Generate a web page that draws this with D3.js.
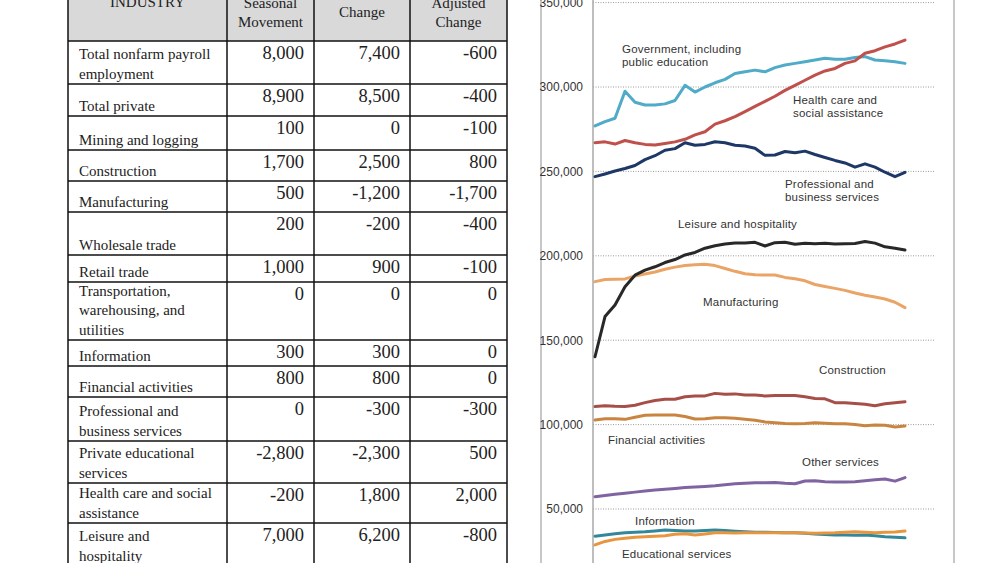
<!DOCTYPE html>
<html>
<head>
<meta charset="utf-8">
<script src="https://cdn.jsdelivr.net/npm/d3@7"></script>
<style>
  body { margin: 0; background: #fff; }
  svg { display: block; }
</style>
</head>
<body>
<div id="container"></div>
<script>
// table data
let industries = [
  "Total nonfarm payroll|employment", "Total private", "Mining and logging", "Construction",
  "Manufacturing", "Wholesale trade", "Retail trade", "Transportation,|warehousing, and|utilities",
  "Information", "Financial activities", "Professional and|business services",
  "Private educational|services", "Health care and social|assistance", "Leisure and|hospitality"
];
let seasonalMovement = [8000, 8900, 100, 1700, 500, 200, 1000, 0, 300, 800, 0, -2800, -200, 7000];
let unadjustedChange = [7400, 8500, 0, 2500, -1200, -200, 900, 0, 300, 800, -300, -2300, 1800, 6200];
let adjustedChange = [-600, -400, -100, 800, -1700, -400, -100, 0, 0, 0, -300, 500, 2000, -800];
let headers = ["INDUSTRY", "Seasonal|Movement", "Change", "Adjusted|Change"];

// chart data (thousands)
let government = [276.9, 279.5, 281.5, 297.5, 291, 289.3, 289.3, 290, 292, 301, 297, 300, 302.5, 304.5, 308, 309, 310, 309, 311.5, 313, 314, 315, 316, 317, 316.5, 316.5, 317.5, 318, 316, 315.5, 315, 314];
let healthCare = [267, 267.5, 266.2, 268.3, 267, 266, 265.6, 266.5, 267.5, 269, 271.6, 273.5, 278, 280, 282.4, 285.4, 288.5, 291.5, 294.5, 298, 301, 304, 307, 309.5, 311, 314, 315.5, 320, 321.5, 323.8, 325.5, 327.8];
let professional = [246.9, 248.5, 250.2, 251.7, 253.5, 257, 259.3, 262.5, 263.5, 267, 265.5, 266, 267.6, 267, 265.5, 265, 263.7, 259.5, 259.7, 261.8, 261, 262, 260, 258.2, 256.5, 255, 252.5, 254.5, 252.5, 249.5, 246.9, 249.4];
let leisure = [140.2, 164, 170.9, 181.7, 188.5, 191.5, 193.5, 196, 197.8, 200.5, 202, 204.5, 206, 207, 207.6, 207.6, 208, 205.8, 207.8, 208, 206.8, 207.5, 207.2, 207.4, 207, 207.2, 207.3, 208.5, 207.5, 205.3, 204.5, 203.4];
let manufacturing = [184.7, 186, 186.1, 186.3, 188, 189.2, 190.4, 192, 193.3, 194.2, 194.7, 195, 194.2, 192.5, 190.8, 189.4, 188.8, 188.6, 188.6, 187.2, 186.4, 185.2, 183, 181.8, 180.7, 179.5, 178, 176.6, 175.6, 174.4, 172.5, 169.3];
let construction = [110.7, 111.2, 110.8, 110.7, 111.5, 113, 114.3, 115, 115, 116.5, 116.9, 117, 118.5, 118, 118.2, 117.5, 117.5, 117, 117.3, 117.2, 117.3, 116.5, 115.5, 115.3, 113, 113, 112.5, 112, 111.2, 112.3, 113, 113.6];
let financial = [102.7, 103.5, 103.5, 103.1, 104.3, 105.5, 105.7, 105.7, 105.7, 104.8, 103.3, 103.4, 104.1, 104, 103.8, 103.2, 102.6, 101.6, 101.1, 100.7, 100.5, 100.7, 101.1, 100.8, 100.5, 100.5, 100, 99.3, 99.7, 99.6, 98.6, 99.2];
let otherServices = [57.3, 58, 58.8, 59.4, 60, 60.6, 61.2, 61.7, 62.2, 62.7, 63.1, 63.4, 63.8, 64.4, 64.9, 65.3, 65.6, 65.6, 65.7, 65.2, 65, 66.6, 66.8, 66.2, 66, 66, 66.2, 66.8, 67.3, 67.8, 66.5, 68.6];
let information = [33.9, 34.6, 35.3, 35.9, 36.2, 36.5, 37, 37.5, 37.2, 36.9, 37, 37.2, 37.5, 37.2, 36.8, 36.5, 36.3, 36.2, 36.1, 36, 35.9, 35.6, 35.2, 34.9, 34.6, 34.6, 34.5, 34.6, 34.2, 33.6, 33.3, 32.9];
let educational = [28.7, 30.8, 32, 32.7, 33.2, 33.6, 33.9, 34.1, 35, 35.3, 34.6, 35.2, 35.9, 36, 35.8, 36, 36, 36, 35.9, 36, 36, 35.8, 35.7, 35.8, 35.9, 36.2, 36.5, 36.2, 36, 36.2, 36.4, 36.9];
let yTicks = [50000, 100000, 150000, 200000, 250000, 300000, 350000];

let seriesList = [
  { name: "Government", values: government, color: "#4fabc8" },
  { name: "Health care", values: healthCare, color: "#bf504c" },
  { name: "Professional", values: professional, color: "#1d3866" },
  { name: "Manufacturing", values: manufacturing, color: "#eaa466" },
  { name: "Leisure", values: leisure, color: "#282828" },
  { name: "Construction", values: construction, color: "#a64f49" },
  { name: "Financial", values: financial, color: "#c98540" },
  { name: "Other services", values: otherServices, color: "#8064a2" },
  { name: "Information", values: information, color: "#33879b" },
  { name: "Educational", values: educational, color: "#e8953f" }
];

let labels = [
  { text: "Government, including|public education", x: 622, y: 53 },
  { text: "Health care and|social assistance", x: 793, y: 104 },
  { text: "Professional and|business services", x: 785, y: 188 },
  { text: "Leisure and hospitality", x: 678, y: 228 },
  { text: "Manufacturing", x: 703, y: 306 },
  { text: "Construction", x: 819, y: 374 },
  { text: "Financial activities", x: 608, y: 444 },
  { text: "Other services", x: 802, y: 466 },
  { text: "Information", x: 635, y: 525 },
  { text: "Educational services", x: 622, y: 558 }
];

let W = 1000, H = 563;
let svg = d3.select("#container").append("svg")
  .attr("width", W).attr("height", H);

// ---------- table ----------
let colX = [68, 227, 314, 410, 507];
let rowEdges = [-20, 41, 84, 116, 150, 181, 212, 255, 282, 340, 366, 397, 441, 483, 523, 566];
let locale = d3.formatLocale({ decimal: ".", thousands: ",", grouping: [3], currency: ["$", ""], minus: "-" });
let fmt = locale.format(",");
let serif = "'Liberation Serif', 'Times New Roman', serif";

let table = svg.append("g");

table.append("rect")
  .attr("x", colX[0]).attr("y", rowEdges[0])
  .attr("width", colX[4] - colX[0]).attr("height", rowEdges[1] - rowEdges[0])
  .attr("fill", "#d9d9d9");

// header text (top of the header is cut off in the source)
headers.forEach((h, i) => {
  let lines = h.split("|");
  let cx = (colX[i] + colX[i + 1]) / 2;
  let lastBase = i == 0 ? 7 : (i == 2 ? 17 : 27);
  lines.forEach((ln, j) => {
    table.append("text")
      .attr("x", cx)
      .attr("y", lastBase - (lines.length - 1 - j) * 19.5)
      .attr("text-anchor", "middle")
      .style("font-family", serif)
      .style("font-size", "15px")
      .attr("fill", "#222")
      .text(ln);
  });
});

// rows
industries.forEach((ind, r) => {
  let top = rowEdges[r + 1], bottom = rowEdges[r + 2];
  let lines = ind.split("|");
  lines.forEach((ln, j) => {
    table.append("text")
      .attr("x", 79)
      .attr("y", bottom - 5.5 - (lines.length - 1 - j) * 19.5)
      .style("font-family", serif)
      .style("font-size", "15px")
      .attr("fill", "#222")
      .text(ln);
  });
  [seasonalMovement[r], unadjustedChange[r], adjustedChange[r]].forEach((v, c) => {
    table.append("text")
      .attr("x", colX[c + 2] - 10)
      .attr("y", top + 18)
      .attr("text-anchor", "end")
      .style("font-family", serif)
      .style("font-size", "18.5px")
      .attr("fill", "#222")
      .text(fmt(v));
  });
});

// grid of table
rowEdges.slice(1).forEach(y => {
  table.append("line")
    .attr("x1", colX[0]).attr("x2", colX[4])
    .attr("y1", y).attr("y2", y)
    .attr("stroke", "#111").attr("stroke-width", 1.5);
});
colX.forEach(x => {
  table.append("line")
    .attr("x1", x).attr("x2", x)
    .attr("y1", 0).attr("y2", H)
    .attr("stroke", "#111").attr("stroke-width", 1.5);
});

// ---------- line chart ----------
let sans = "'Liberation Sans', Arial, sans-serif";
let n = government.length;
let x = d3.scaleLinear().domain([0, n - 1]).range([595, 905]);
let y = d3.scaleLinear().domain([0, 350000]).range([593.4, 2.6]);

let chart = svg.append("g");

// frame
[541, 954].forEach(fx => {
  chart.append("line")
    .attr("x1", fx).attr("x2", fx).attr("y1", 0).attr("y2", H)
    .attr("stroke", "#b5b5b5").attr("stroke-width", 1.5);
});

// gridlines
chart.selectAll(".grid")
  .data(yTicks)
  .enter()
  .append("line")
  .attr("class", "grid")
  .attr("x1", 593).attr("x2", 935)
  .attr("y1", d => y(d)).attr("y2", d => y(d))
  .attr("stroke", "#9a9a9a")
  .attr("stroke-width", 1)
  .attr("stroke-dasharray", "1,1.5");

// y axis
let yAxis = chart.append("g")
  .attr("transform", "translate(593,0)")
  .call(d3.axisLeft(y).tickValues(yTicks).tickSize(0).tickPadding(10).tickFormat(fmt));
yAxis.select(".domain").remove();
yAxis.selectAll("text")
  .style("font-family", sans)
  .style("font-size", "12px")
  .attr("fill", "#333");

chart.append("line")
  .attr("x1", 593).attr("x2", 593).attr("y1", 0).attr("y2", H)
  .attr("stroke", "#a8a8a8").attr("stroke-width", 1.5);

let line = d3.line()
  .x((d, i) => x(i))
  .y(d => y(d * 1000));

chart.selectAll(".series")
  .data(seriesList)
  .enter()
  .append("path")
  .attr("class", "series")
  .attr("d", d => line(d.values))
  .attr("fill", "none")
  .attr("stroke", d => d.color)
  .attr("stroke-width", 3)
  .attr("stroke-linejoin", "round")
  .attr("stroke-linecap", "round");

// labels
labels.forEach(l => {
  let lines = l.text.split("|");
  lines.forEach((ln, j) => {
    chart.append("text")
      .attr("x", l.x)
      .attr("y", l.y + j * 13)
      .style("font-family", sans)
      .style("font-size", "11.5px")
      .style("letter-spacing", "0.2px")
      .attr("fill", "#333")
      .text(ln);
  });
});
</script>
</body>
</html>
